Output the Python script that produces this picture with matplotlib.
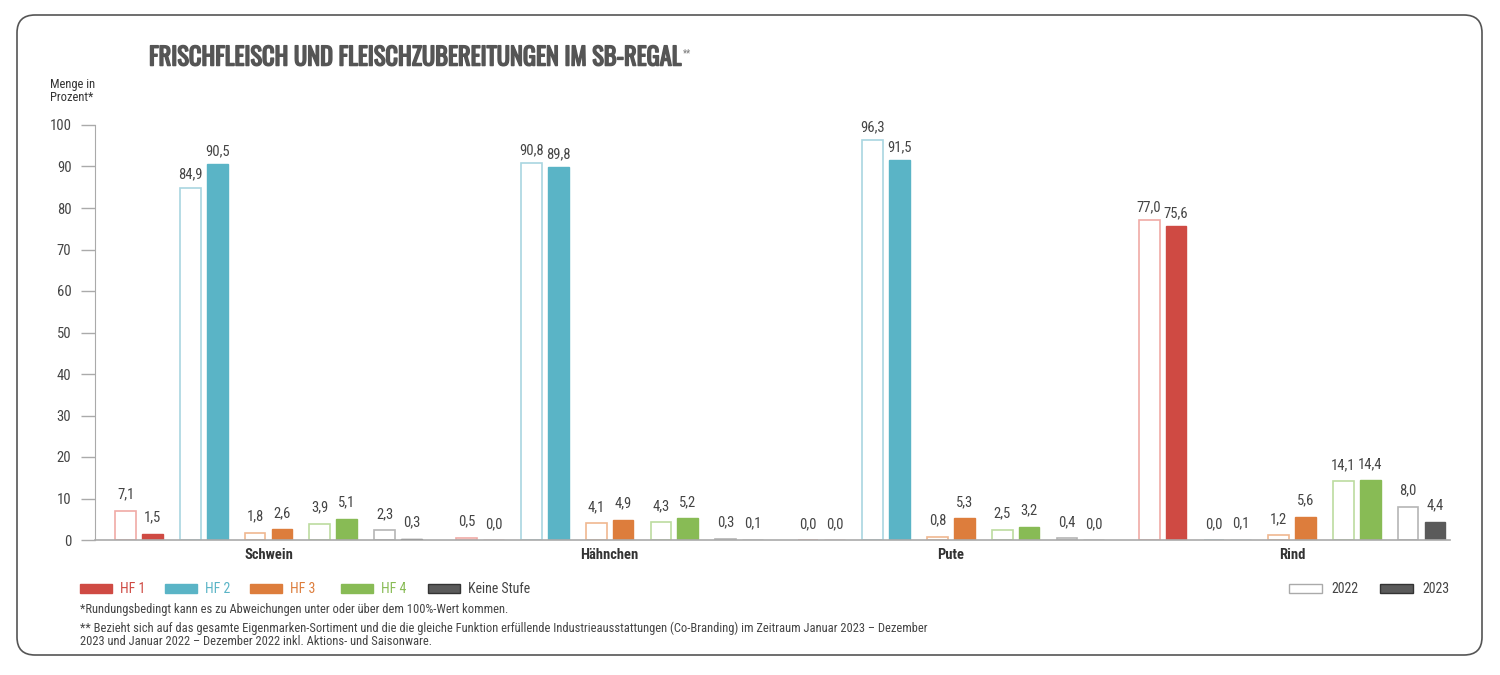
import matplotlib.pyplot as plt
import matplotlib.patheffects as pe
import numpy as np
from matplotlib.patches import Rectangle, FancyBboxPatch
from matplotlib import font_manager

# data
categories = ["Schwein", "Hähnchen", "Pute", "Rind"]
levels = ["HF 1", "HF 2", "HF 3", "HF 4", "Keine Stufe"]
years = ["2022", "2023"]
vals_2022 = [
    [7.1, 84.9, 1.8, 3.9, 2.3],
    [0.5, 90.8, 4.1, 4.3, 0.3],
    [0.0, 96.3, 0.8, 2.5, 0.4],
    [77.0, 0.0, 1.2, 14.1, 8.0],
]
vals_2023 = [
    [1.5, 90.5, 2.6, 5.1, 0.3],
    [0.0, 89.8, 4.9, 5.2, 0.1],
    [0.0, 91.5, 5.3, 3.2, 0.0],
    [75.6, 0.1, 5.6, 14.4, 4.4],
]
colors = ["#cf4a43", "#5ab4c6", "#dd7d3c", "#88bb55", "#5a5a5a"]
edge_2022 = ["#f0aaa6", "#a9d6e0", "#f0b890", "#bcdca0", "#b5b5b5"]

names = {f.name for f in font_manager.fontManager.ttflist}


def pick(*cands):
    for c in cands:
        if c in names:
            return c
    return "DejaVu Sans"


title_font = pick("Oswald", "Fjalla One", "Roboto Condensed", "Liberation Sans Narrow")
body_font = pick("Roboto Condensed", "Liberation Sans Narrow", "Roboto")
plt.rcParams['font.family'] = [body_font, "DejaVu Sans"]

fig = plt.figure(figsize=(15, 6.75), dpi=100)
fig.patch.set_facecolor("white")

# rounded frame
frame = FancyBboxPatch((17 / 1500, 1 - 655 / 675), (1482 - 17) / 1500, (655 - 15) / 675,
                       boxstyle="round,pad=0,rounding_size=0.012", transform=fig.transFigure,
                       facecolor="white", edgecolor="#555555", linewidth=1.2, mutation_aspect=2.2,
                       zorder=-5)
fig.patches.append(frame)

ax = fig.add_axes([95 / 1500, 1 - 540 / 675, (1450 - 95) / 1500, (540 - 125) / 675])
ax.set_facecolor("none")

step = 5.27
w = 0.32
off = 0.207
for c in range(len(categories)):
    for p in range(len(levels)):
        xc = c * step + p
        v0 = vals_2022[c][p]
        v1 = vals_2023[c][p]
        ax.bar(xc - off, v0, w, facecolor="white", edgecolor=edge_2022[p], linewidth=1.2)
        ax.bar(xc + off, v1, w, facecolor=colors[p], edgecolor=colors[p], linewidth=1.0)
        ax.text(xc - off, v0 + (2.2 if v0 < 50 else 1.5), f"{v0:.1f}".replace(".", ","),
                ha="center", va="bottom", fontsize=10.5, color="#444444")
        ax.text(xc + off, v1 + (2.2 if v1 < 50 else 1.5), f"{v1:.1f}".replace(".", ","),
                ha="center", va="bottom", fontsize=10.5, color="#444444")

ax.set_xlim(-0.68, 3 * step + 4 + 0.44)
ax.set_ylim(0, 100)
ax.set_yticks(np.arange(0, 101, 10))
ax.set_yticklabels([str(t) for t in range(0, 101, 10)], fontsize=10.5, color="#444444")
ax.tick_params(axis="y", length=10, width=1, color="#aaaaaa", pad=7)
ax.set_xticks([c * step + 2 for c in range(len(categories))])
ax.set_xticklabels(categories, fontsize=10.5, fontweight="bold", color="#333333")
ax.tick_params(axis="x", length=0, pad=6)
for s in ["top", "right"]:
    ax.spines[s].set_visible(False)
ax.spines["left"].set_color("#aaaaaa")
ax.spines["bottom"].set_color("#aaaaaa")
ax.spines["bottom"].set_linewidth(1.2)

# title (stroke makes the condensed font look heavier)
t = fig.text(149 / 1500, 1 - 58 / 675, "FRISCHFLEISCH UND FLEISCHZUBEREITUNGEN IM SB-REGAL",
             fontsize=17.6, fontweight="bold", color="#555555", va="center", ha="left",
             family=[title_font, "DejaVu Sans"])
t.set_path_effects([pe.withStroke(linewidth=1.1, foreground="#555555")])
if title_font == "DejaVu Sans":
    t.set_fontsize(12)
ax.annotate("**", xy=(1, 0.9), xycoords=t, xytext=(2, 0), textcoords="offset points",
            fontsize=7, color="#777777", va="top", ha="left", annotation_clip=False)

fig.text(50 / 1500, 1 - 91 / 675, "Menge in\nProzent*", fontsize=9, color="#333333", va="center",
         ha="left", linespacing=0.95)

# legend: levels
leg_x = [80, 165, 250, 341, 428]
for i, lab in enumerate(levels):
    x0 = leg_x[i] / 1500
    fig.patches.append(Rectangle((x0, 1 - 593 / 675), 32 / 1500, 9 / 675, transform=fig.transFigure,
                                 facecolor=colors[i], edgecolor=colors[i] if i < 4 else "#333333"))
    fig.text(x0 + 40 / 1500, 1 - 589 / 675, lab, fontsize=10,
             color=colors[i] if i < 4 else "#444444", va="center", ha="left")

# legend: years
fig.patches.append(Rectangle((1289 / 1500, 1 - 593 / 675), 33 / 1500, 9 / 675, transform=fig.transFigure,
                             facecolor="white", edgecolor="#aaaaaa"))
fig.text(1331 / 1500, 1 - 589 / 675, years[0], fontsize=10, color="#444444", va="center")
fig.patches.append(Rectangle((1380 / 1500, 1 - 593 / 675), 33 / 1500, 9 / 675, transform=fig.transFigure,
                             facecolor="#5a5a5a", edgecolor="#333333"))
fig.text(1422 / 1500, 1 - 589 / 675, years[1], fontsize=10, color="#444444", va="center")

fig.text(80 / 1500, 1 - 609 / 675,
         "*Rundungsbedingt kann es zu Abweichungen unter oder über dem 100%-Wert kommen.",
         fontsize=9, color="#444444", va="center")
fig.text(80 / 1500, 1 - 635 / 675,
         "** Bezieht sich auf das gesamte Eigenmarken-Sortiment und die die gleiche Funktion erfüllende "
         "Industrieausstattungen (Co-Branding) im Zeitraum Januar 2023 – Dezember\n"
         "2023 und Januar 2022 – Dezember 2022 inkl. Aktions- und Saisonware.",
         fontsize=9, color="#444444", va="center", linespacing=1.0)

fig.savefig("out.png", dpi=100, facecolor="white")
